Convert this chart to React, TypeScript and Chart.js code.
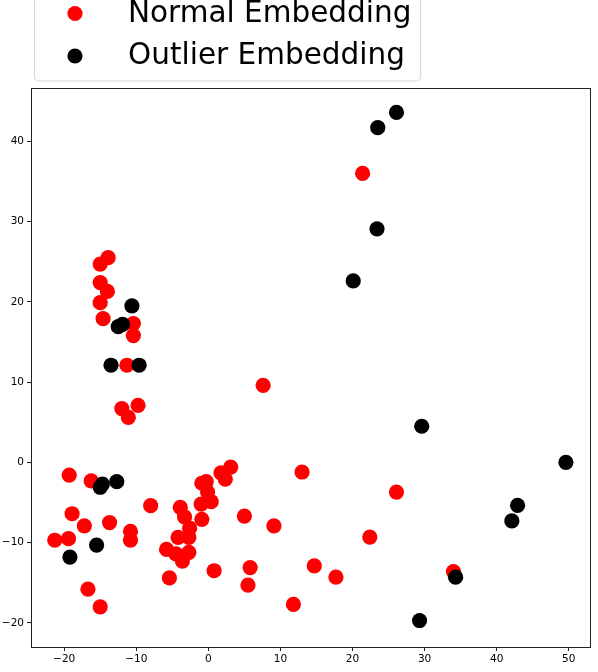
import React, { useEffect, useRef } from "react";
import { Chart, registerables } from "chart.js";

Chart.register(...registerables);

const seriesNames = ["Normal Embedding", "Outlier Embedding"];
const seriesColors = ["#ff0000", "#000000"];

const normalX = [
  -13.9, -15.0, -15.0, -14.0, -15.0, -14.6, -10.4, -10.4, -11.3, -9.75, -12.0, -11.1,
  21.4, 7.6, 13.0, 26.1, 5.0, 9.1, 22.4,
  -19.3, -16.25, -8.0, -18.9, -17.2, -13.7, -10.8, -10.8, -21.3, -19.4, -16.7, -15.0,
  3.1, 1.75, 2.35, -0.3, -0.9, -0.1, 0.4, -1.0, -0.9, -3.9, -3.3, -2.6, -2.7, -4.2,
  -5.8, -4.5, -2.7, -3.6, -5.4, 0.8,
  5.8, 5.5, 14.7, 17.7, 11.8, 34.0,
];
const normalY = [
  25.5, 24.7, 22.4, 21.3, 19.9, 17.9, 17.3, 15.8, 12.1, 7.1, 6.7, 5.6,
  36.0, 9.6, -1.2, -3.7, -6.7, -7.9, -9.3,
  -1.6, -2.3, -5.4, -6.4, -7.9, -7.5, -8.6, -9.7, -9.7, -9.5, -15.8, -18.0,
  -0.6, -1.3, -2.1, -2.4, -2.6, -3.7, -4.9, -5.2, -7.1, -5.6, -6.8, -8.2, -9.35, -9.35,
  -10.85, -11.4, -11.2, -12.3, -14.4, -13.5,
  -13.1, -15.3, -12.9, -14.3, -17.7, -13.6,
];

const outlierX = [
  26.1, 23.5, 23.4, 20.1, -10.6, -12.5, -11.9, -13.5, -9.6, 29.6, 49.6,
  -15.0, -14.7, -12.7, -15.5, -19.2, 42.9, 42.1, 34.3, 29.3,
];
const outlierY = [
  43.6, 41.7, 29.1, 22.6, 19.5, 16.9, 17.2, 12.1, 12.1, 4.5, 0.0,
  -3.1, -2.7, -2.4, -10.3, -11.8, -5.35, -7.3, -14.3, -19.7,
];

const xTicks = [-20, -10, 0, 10, 20, 30, 40, 50];
const yTicks = [-20, -10, 0, 10, 20, 30, 40];
const xRange = [-24.6, 53.0];
const yRange = [-23.0, 46.7];

const toPoints = (xs: number[], ys: number[]) => xs.map((x, i) => ({ x, y: ys[i] }));
const fmt = (v: number | string) => String(v).replace("-", "\u2212");

const frameLegendPlugin = {
  id: "frameLegend",
  afterDraw(chart: any) {
    const { ctx, chartArea: a } = chart;
    ctx.save();
    ctx.strokeStyle = "#222";
    ctx.lineWidth = 1;
    ctx.strokeRect(
      Math.round(a.left) + 0.5,
      Math.round(a.top) + 0.5,
      Math.round(a.right) - Math.round(a.left),
      Math.round(a.bottom) - Math.round(a.top)
    );
    // legend box (clipped at the top like the reference)
    const bx = 34.5, by = -20, bw = 386, bh = 101;
    const r = 4;
    ctx.beginPath();
    ctx.moveTo(bx + r, by);
    ctx.lineTo(bx + bw - r, by);
    ctx.quadraticCurveTo(bx + bw, by, bx + bw, by + r);
    ctx.lineTo(bx + bw, by + bh - r);
    ctx.quadraticCurveTo(bx + bw, by + bh, bx + bw - r, by + bh);
    ctx.lineTo(bx + r, by + bh);
    ctx.quadraticCurveTo(bx, by + bh, bx, by + bh - r);
    ctx.lineTo(bx, by + r);
    ctx.quadraticCurveTo(bx, by, bx + r, by);
    ctx.closePath();
    ctx.fillStyle = "rgba(255,255,255,0.9)";
    ctx.fill();
    ctx.strokeStyle = "#d6d6d6";
    ctx.stroke();
    const rows = [13.5, 56];
    const baselines = [22, 64];
    ctx.font = '29.5px "DejaVu Sans"';
    ctx.textBaseline = "alphabetic";
    ctx.textAlign = "left";
    seriesNames.forEach((name, i) => {
      ctx.beginPath();
      ctx.arc(75, rows[i], 7.6, 0, Math.PI * 2);
      ctx.fillStyle = seriesColors[i];
      ctx.fill();
      ctx.fillStyle = "#000";
      ctx.fillText(name, 128, baselines[i]);
    });
    ctx.restore();
  },
};

export default function App() {
  const ref = useRef<HTMLCanvasElement | null>(null);
  useEffect(() => {
    if (!ref.current) return;
    const chart = new Chart(ref.current, {
      type: "scatter",
      data: {
        datasets: [
          {
            label: seriesNames[0],
            data: toPoints(normalX, normalY),
            backgroundColor: seriesColors[0],
            borderWidth: 0,
            pointRadius: 7.6,
            order: 1,
          },
          {
            label: seriesNames[1],
            data: toPoints(outlierX, outlierY),
            backgroundColor: seriesColors[1],
            borderWidth: 0,
            pointRadius: 7.6,
            order: 0,
          },
        ],
      },
      options: {
        animation: false,
        responsive: false,
        devicePixelRatio: 1,
        layout: { padding: { top: 87.5, right: 2, left: 0, bottom: 0 } },
        plugins: { legend: { display: false }, tooltip: { enabled: false } },
        scales: {
          x: {
            type: "linear",
            min: xRange[0],
            max: xRange[1],
            afterBuildTicks: (s: any) => {
              s.ticks = xTicks.map((v) => ({ value: v }));
            },
            afterFit: (s: any) => {
              s.height = 25;
            },
            grid: {
              display: true,
              drawOnChartArea: false,
              drawTicks: true,
              tickLength: 4,
              color: "#222",
            },
            border: { display: false },
            ticks: {
              color: "#000",
              padding: 2,
              maxRotation: 0,
              font: { family: "DejaVu Sans", size: 10.5 },
              callback: (v: any) => fmt(v),
            },
          },
          y: {
            type: "linear",
            min: yRange[0],
            max: yRange[1],
            afterBuildTicks: (s: any) => {
              s.ticks = yTicks.map((v) => ({ value: v }));
            },
            afterFit: (s: any) => {
              s.width = 31;
            },
            grid: {
              display: true,
              drawOnChartArea: false,
              drawTicks: true,
              tickLength: 4,
              color: "#222",
            },
            border: { display: false },
            ticks: {
              color: "#000",
              padding: 3,
              font: { family: "DejaVu Sans", size: 10.5 },
              callback: (v: any) => fmt(v),
            },
          },
        },
      },
      plugins: [frameLegendPlugin],
    } as any);
    return () => chart.destroy();
  }, []);
  return (
    <div style={{ position: "absolute", left: 0, top: 0, width: 598, height: 672, background: "#fff" }}>
      <canvas ref={ref} width={598} height={672} style={{ display: "block", width: 598, height: 672 }} />
    </div>
  );
}
